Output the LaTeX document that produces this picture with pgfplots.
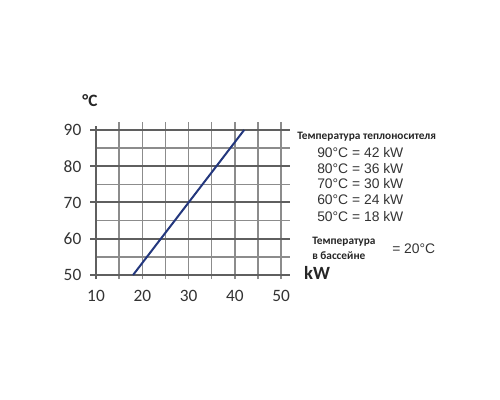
\documentclass[border=0pt]{standalone}
\usepackage{pgfplots}
\pgfplotsset{compat=1.18}
\usepackage{fontspec}
\setmainfont{Carlito}
\newfontfamily\arial{Liberation Sans}
\definecolor{navyline}{RGB}{35,55,125}
\definecolor{gridlight}{RGB}{140,140,140}
\definecolor{griddark}{RGB}{95,95,95}
\begin{document}
\begin{tikzpicture}[x=1pt,y=1pt]
\useasboundingbox (0,0) rectangle (375,300);
\begin{axis}[
  at={(67.5pt,90.75pt)}, anchor=south west,
  scale only axis, width=150pt, height=117.75pt,
  xmin=8.7, xmax=51.9, ymin=48.9, ymax=92.2,
  axis line style={draw=none},
  xtick={10,20,30,40,50}, ytick={50,60,70,80,90},
  major tick length=0pt,
  /pgf/number format/assume math mode=true,
  ticklabel style={font=\fontsize{13}{15}\selectfont, text=black!80},
  xticklabel style={yshift=-5pt},
  yticklabel style={xshift=-3pt},
  clip=false,
]
% vertical grid lines
\foreach \xv in {15,20,...,50} {
  \edef\temp{\noexpand\draw[gridlight, line width=1.1pt] (axis cs:\xv,48.9) -- (axis cs:\xv,92.2);}
  \temp
}
% minor horizontal lines
\foreach \yv in {55,65,75,85} {
  \edef\temp{\noexpand\draw[gridlight, line width=1.1pt] (axis cs:10,\yv) -- (axis cs:51.9,\yv);}
  \temp
}
% major horizontal lines
\foreach \yv in {50,60,...,90} {
  \edef\temp{\noexpand\draw[griddark, line width=1.5pt] (axis cs:8.7,\yv) -- (axis cs:51.9,\yv);}
  \temp
}
\draw[griddark, line width=1.8pt] (axis cs:10,48.9) -- (axis cs:10,91);
\addplot[navyline, line width=1.5pt, no marks] coordinates {(18,50) (42,90)};
\end{axis}
\node[font=\fontsize{13}{15}\selectfont\bfseries, text=black!85] at (67.5,224.25) {°C};
\node[font=\fontsize{14}{16}\selectfont\bfseries, text=black!85] at (237.75,95.25) {kW};
\node[anchor=west, inner sep=0pt, font=\fontsize{8.5}{10}\selectfont\bfseries, text=black!85] at (222.75,197.25) {Температура теплоносителя};
\node[anchor=west, inner sep=0pt, font=\arial\fontsize{10.4}{12}\selectfont, text=black!80] at (237.75,185.25) {90°C = 42 kW};
\node[anchor=west, inner sep=0pt, font=\arial\fontsize{10.4}{12}\selectfont, text=black!80] at (237.75,173.25) {80°C = 36 kW};
\node[anchor=west, inner sep=0pt, font=\arial\fontsize{10.4}{12}\selectfont, text=black!80] at (237.75,162) {70°C = 30 kW};
\node[anchor=west, inner sep=0pt, font=\arial\fontsize{10.4}{12}\selectfont, text=black!80] at (237.75,150) {60°C = 24 kW};
\node[anchor=west, inner sep=0pt, font=\arial\fontsize{10.4}{12}\selectfont, text=black!80] at (237.75,137.25) {50°C = 18 kW};
\node[anchor=west, inner sep=0pt, font=\fontsize{8.5}{10}\selectfont\bfseries, text=black!85] at (234,118.5) {Температура};
\node[anchor=west, inner sep=0pt, font=\fontsize{8.5}{10}\selectfont\bfseries, text=black!85] at (234,108) {в бассейне};
\node[anchor=west, inner sep=0pt, font=\arial\fontsize{10.4}{12}\selectfont, text=black!80] at (294,113.25) {= 20°C};
\end{tikzpicture}
\end{document}
